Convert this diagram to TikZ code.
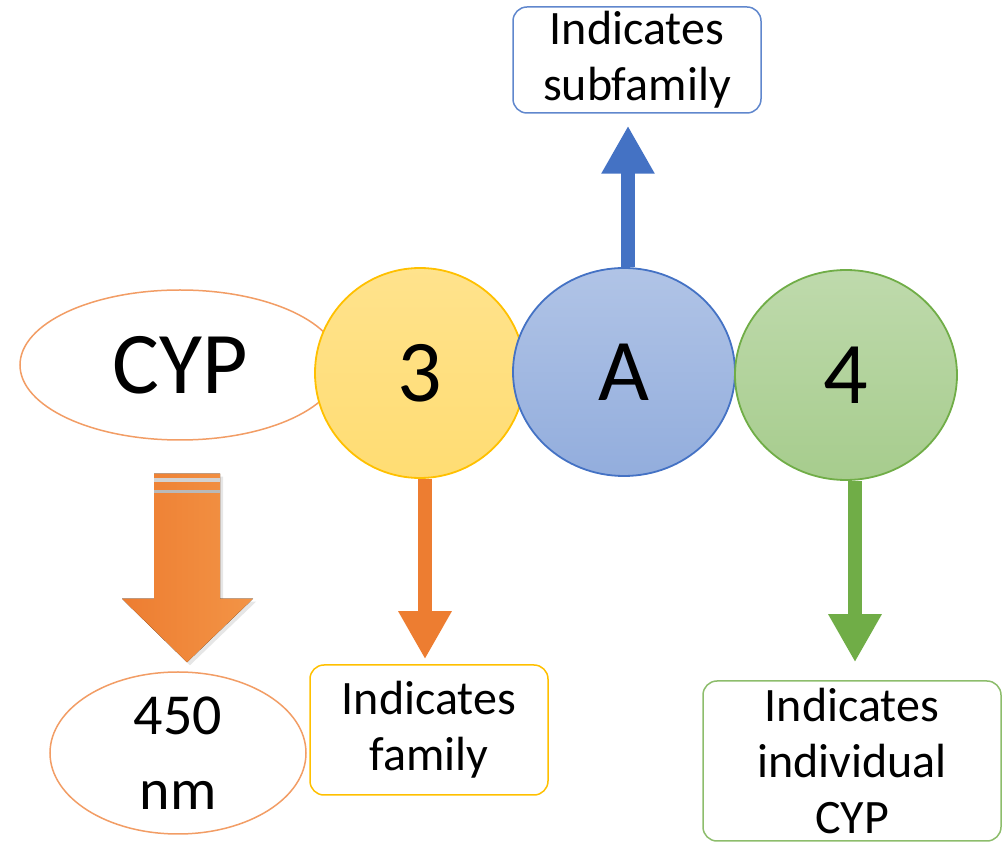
\documentclass[tikz,border=0pt]{standalone}
\usepackage{fontspec}
\setmainfont{Carlito}
\usetikzlibrary{shapes,shapes.geometric,arrows.meta,shadows,calc}
\definecolor{cyporange}{HTML}{ED7D31}
\definecolor{cyplight}{HTML}{F39446}
\definecolor{cypgold}{HTML}{FFC000}
\definecolor{cypblue}{HTML}{4472C4}
\definecolor{cypgreen}{HTML}{70AD47}
\begin{document}
\begin{tikzpicture}[x=0.5pt,y=-0.5pt]
			\tikzstyle{oval}=[ellipse, draw=cyporange!75, line width=0.75pt, fill=white, inner sep=0pt, align=center]
			\tikzstyle{ball}=[ellipse, line width=0.9pt, inner sep=0pt, font=\fontsize{44}{50}\selectfont]
			\tikzstyle{note}=[rectangle, rounded corners=7pt, line width=0.75pt, fill=white, inner sep=0pt, align=center, font=\fontsize{24}{28}\selectfont]
			\tikzstyle{link}=[line width=7pt, -{Triangle[length=24pt,width=25pt]}]
			\useasboundingbox (0,0) rectangle (1003,844);
			% name and digits
			\node[oval, minimum width=160pt, minimum height=75pt, font=\fontsize{44}{50}\selectfont] (cyp) at (180,365) {CYP};
			\node[ball, draw=cypgold, top color=cypgold!45, bottom color=cypgold!55, minimum width=105pt, minimum height=105pt] (fam3) at (420,373) {3};
			\node[ball, draw=cypblue, top color=cypblue!42, bottom color=cypblue!58, minimum width=111pt, minimum height=104pt] (subA) at (624,372) {A};
			\node[ball, draw=cypgreen, top color=cypgreen!45, bottom color=cypgreen!62, minimum width=111pt, minimum height=105pt] (ind4) at (846,375) {4};
			% labels
			\node[note, draw=cypblue!85, minimum width=124pt, minimum height=53pt] (subbox) at (637,60) {Indicates\\subfamily};
			\node[note, draw=cypgold, minimum width=119pt, minimum height=65pt] (fambox) at (429,730) {Indicates\\family};
			\node[note, draw=cypgreen!80, minimum width=149pt, minimum height=80pt] (indbox) at (852,761) {Indicates\\individual\\CYP};
			\node[oval, minimum width=128pt, minimum height=81pt, font=\fontsize{29}{37.5}\selectfont] (nm) at (178,753) {450\\nm};
			% arrows
			\draw[link, cypblue] ([xshift=2pt]subA.north) -- ([xshift=-4.5pt,yshift=-6pt]subbox.south);
			\draw[link, cyporange] ([xshift=2.5pt]fam3.south) -- ([xshift=-2pt,yshift=2.5pt]fambox.north);
			\draw[link, cypgreen] ([xshift=4.5pt]ind4.south) -- ([xshift=1.5pt,yshift=9pt]indbox.north);
			% block arrow from CYP to 450 nm
			\coordinate (bigtop) at ($(cyp.south)+(7,33)$);
			\fill[left color=cyporange, right color=cyplight, drop shadow={opacity=0.2, shadow xshift=1.5pt, shadow yshift=-1.5pt}]
				($(bigtop)+(-33,0)$) -- ++(66,0) -- ++(0,125) -- ++(33,0) -- ($(nm.north)+(9,-9)$) -- ($(bigtop)+(-65,125)$) -- ++(32,0) -- cycle;
			\fill[gray!35] ($(bigtop)+(-33,4)$) rectangle ++(66,4);
			\fill[gray!55] ($(bigtop)+(-33,16)$) rectangle ++(66,3);
		\end{tikzpicture}
\end{document}
